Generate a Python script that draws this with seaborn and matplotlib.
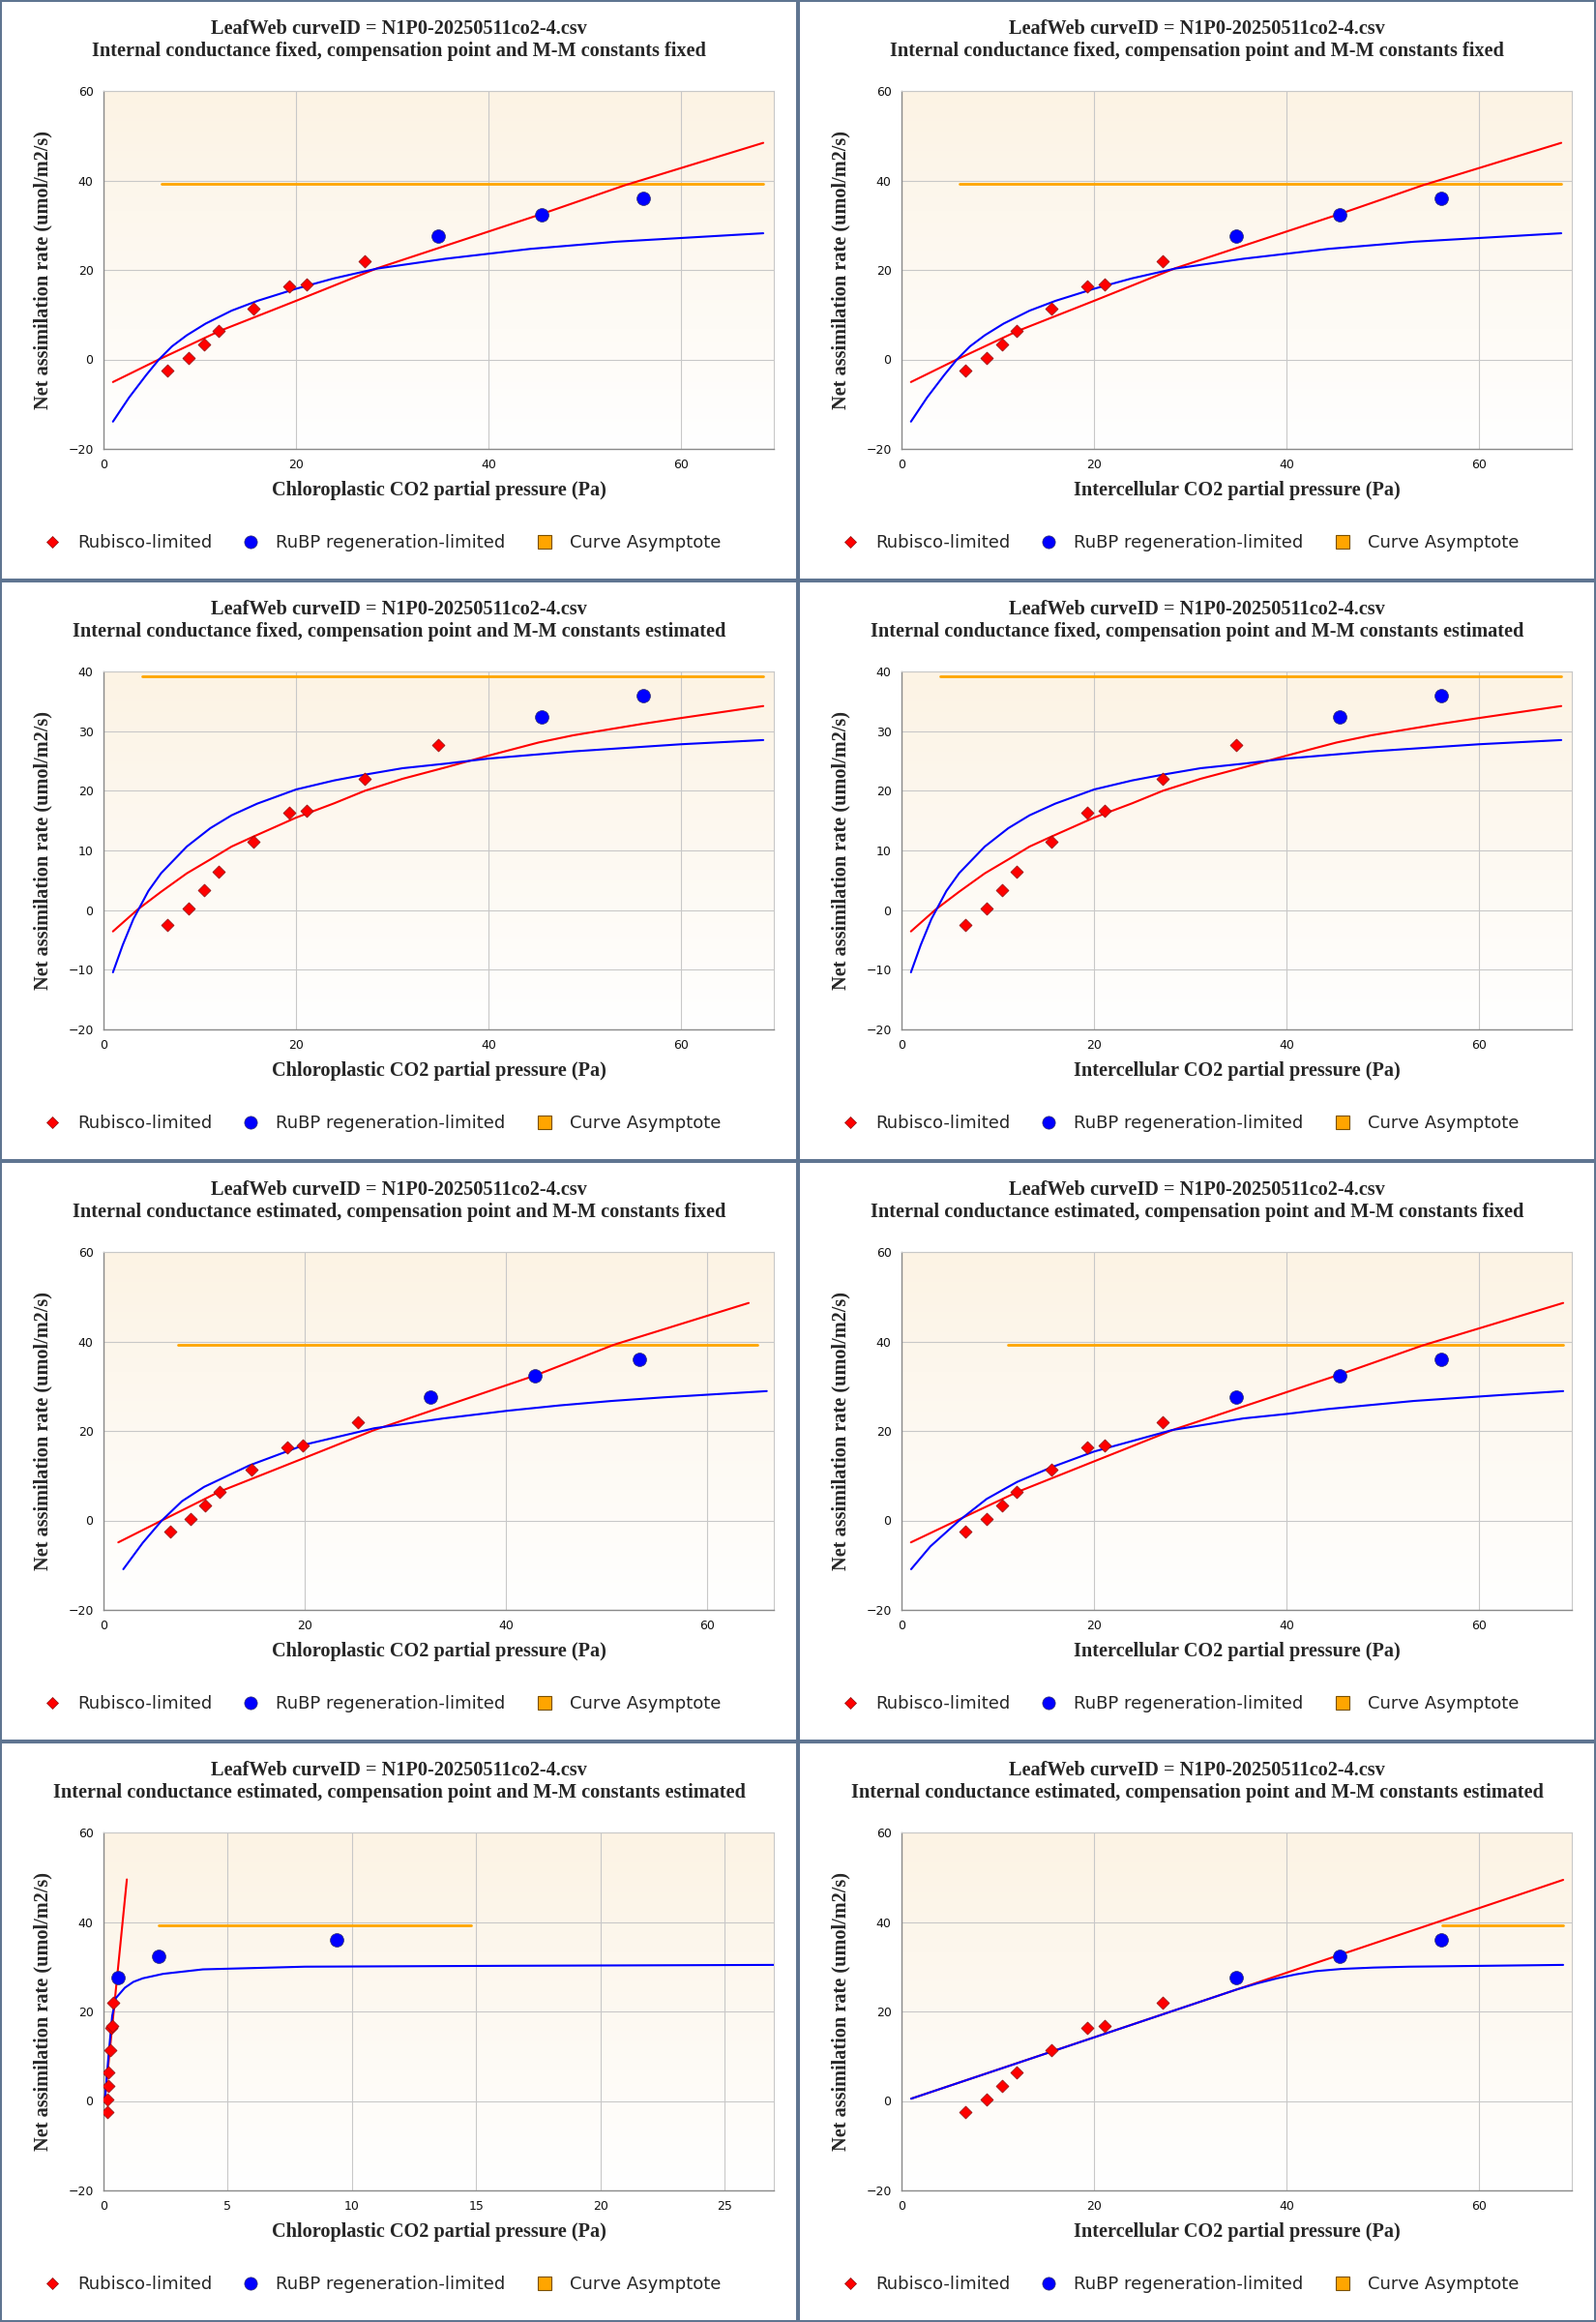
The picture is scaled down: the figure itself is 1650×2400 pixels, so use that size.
import numpy as np
import matplotlib
matplotlib.use("Agg")
import matplotlib.pyplot as plt
import seaborn as sns
from matplotlib.lines import Line2D
from matplotlib.patches import Rectangle

# observed points (same A values in every panel, x depends on the CO2 basis)
A_OBS = [-2.45, 0.33, 3.35, 6.45, 11.4, 16.3, 16.68, 22.0, 27.63, 32.4, 35.93]
CI_OBS = [6.65, 8.87, 10.42, 11.97, 15.52, 19.33, 21.06, 27.14, 34.77, 45.54, 56.0]
CC_GM_EST = [6.63, 8.61, 10.08, 11.49, 14.73, 18.28, 19.8, 25.3, 32.5, 42.9, 53.2]
CC_ALL_EST = [0.14, 0.16, 0.2, 0.2, 0.27, 0.33, 0.35, 0.39, 0.57, 2.21, 9.39]

# how many of the points are Rubisco-limited in each panel
N_RUBISCO = [8, 8, 9, 9, 8, 8, 8, 8]

# fitted curves
RED_FF_X = [0.98, 5.76, 11.97, 20.0, 28.4, 45.5, 54.1, 68.5]
RED_FF_Y = [-5.05, 0.0, 6.28, 13.1, 20.36, 32.5, 38.9, 48.4]
BLUE_FF_X = [0.98, 2.66, 4.43, 5.76, 7.1, 8.65, 10.6, 13.3, 16.0, 20.0, 23.9, 28.4,
             35.5, 44.3, 53.2, 62.1, 68.5]
BLUE_FF_Y = [-13.9, -8.5, -3.5, 0.0, 2.9, 5.4, 8.0, 10.9, 13.1, 15.8, 18.1, 20.3,
             22.5, 24.7, 26.3, 27.4, 28.2]

RED_FE_X = [0.98, 3.55, 5.99, 8.65, 11.09, 13.3, 15.5, 20.0, 23.95, 27.14, 31.04,
            35.48, 40.0, 45.2, 48.78, 55.9, 60.0, 68.5]
RED_FE_Y = [-3.57, 0.1, 3.08, 6.16, 8.49, 10.65, 12.27, 15.5, 17.9, 20.0, 22.0,
            23.9, 25.9, 28.1, 29.3, 31.2, 32.2, 34.2]
BLUE_FE_X = [0.98, 2.0, 3.1, 4.66, 5.99, 8.65, 11.09, 13.3, 15.96, 20.0, 23.95, 27.14,
             31.04, 35.48, 40.0, 48.78, 60.0, 68.5]
BLUE_FE_Y = [-10.43, -5.84, -1.51, 3.2, 6.2, 10.65, 13.73, 15.89, 17.84, 20.22,
             21.73, 22.7, 23.78, 24.54, 25.4, 26.6, 27.8, 28.5]

RED_EF_CC_X = [1.47, 5.8, 11.49, 20.0, 26.9, 42.9, 50.7, 64.1]
RED_EF_CC_Y = [-4.9, 0.0, 6.4, 14.0, 20.2, 32.4, 39.25, 48.6]
BLUE_EF_CC_X = [1.97, 3.9, 5.8, 7.8, 10.0, 14.5, 20.1, 26.9, 33.8, 40.1, 45.3, 50.5,
                55.6, 60.0, 65.9]
BLUE_EF_CC_Y = [-10.9, -5.0, 0.0, 4.3, 7.5, 12.3, 17.0, 20.6, 22.8, 24.5, 25.7, 26.7,
                27.5, 28.1, 28.9]

RED_EF_CI_X = [0.98, 5.76, 11.97, 20.0, 28.4, 45.5, 54.1, 68.7]
RED_EF_CI_Y = [-4.9, 0.0, 6.3, 13.2, 20.4, 32.6, 39.1, 48.6]
BLUE_EF_CI_X = [1.0, 3.0, 6.0, 8.84, 12.0, 15.6, 20.0, 28.1, 35.5, 40.0, 44.3, 53.2,
                62.1, 68.7]
BLUE_EF_CI_Y = [-10.9, -5.8, 0.0, 4.8, 8.6, 11.9, 15.4, 20.2, 22.8, 23.8, 24.9, 26.7,
                28.0, 28.9]

RED_EE_CC_X = [0.06, 0.94]
RED_EE_CC_Y = [0.5, 49.5]
BLUE_EE_CC_X = [0.06, 0.2, 0.35, 0.5, 0.86, 1.2, 1.58, 2.4, 4.0, 8.1, 16.3, 27.0]
BLUE_EE_CC_Y = [0.5, 10.0, 19.0, 23.0, 25.3, 26.6, 27.4, 28.4, 29.4, 30.0, 30.2, 30.4]

RED_EE_CI_X = [1.0, 34.8, 68.7]
RED_EE_CI_Y = [0.5, 24.9, 49.4]
BLUE_EE_CI_X = [1.0, 20.0, 34.8, 37.0, 39.0, 41.0, 43.0, 45.7, 49.0, 52.7, 68.7]
BLUE_EE_CI_Y = [0.5, 14.2, 24.9, 26.3, 27.4, 28.3, 29.0, 29.5, 29.8, 30.0, 30.4]

ASYMPTOTE_A = 39.25
ASYMPTOTE_X = [(6.0, 68.5), (6.0, 68.5), (4.0, 68.5), (4.0, 68.5),
               (7.4, 65.0), (11.0, 68.7), (2.21, 14.8), (56.1, 68.7)]

X_MAX = [69.6, 69.6, 69.6, 69.6, 66.6, 69.6, 26.97, 69.6]
Y_RANGE = [(-20, 60), (-20, 60), (-20, 40), (-20, 40),
           (-20, 60), (-20, 60), (-20, 60), (-20, 60)]

SUBTITLES = [
    "Internal conductance fixed, compensation point and M-M constants fixed",
    "Internal conductance fixed, compensation point and M-M constants fixed",
    "Internal conductance fixed, compensation point and M-M constants estimated",
    "Internal conductance fixed, compensation point and M-M constants estimated",
    "Internal conductance estimated, compensation point and M-M constants fixed",
    "Internal conductance estimated, compensation point and M-M constants fixed",
    "Internal conductance estimated, compensation point and M-M constants estimated",
    "Internal conductance estimated, compensation point and M-M constants estimated",
]
TITLE = "LeafWeb curveID = N1P0-20250511co2-4.csv"
XLABEL_CC = "Chloroplastic CO2 partial pressure (Pa)"
XLABEL_CI = "Intercellular CO2 partial pressure (Pa)"
YLABEL = "Net assimilation rate (umol/m2/s)"
LEGEND_LABELS = ["Rubisco-limited", "RuBP regeneration-limited", "Curve Asymptote"]

panel_x = [CI_OBS, CI_OBS, CI_OBS, CI_OBS, CC_GM_EST, CI_OBS, CC_ALL_EST, CI_OBS]
panel_curves = [
    (RED_FF_X, RED_FF_Y, BLUE_FF_X, BLUE_FF_Y),
    (RED_FF_X, RED_FF_Y, BLUE_FF_X, BLUE_FF_Y),
    (RED_FE_X, RED_FE_Y, BLUE_FE_X, BLUE_FE_Y),
    (RED_FE_X, RED_FE_Y, BLUE_FE_X, BLUE_FE_Y),
    (RED_EF_CC_X, RED_EF_CC_Y, BLUE_EF_CC_X, BLUE_EF_CC_Y),
    (RED_EF_CI_X, RED_EF_CI_Y, BLUE_EF_CI_X, BLUE_EF_CI_Y),
    (RED_EE_CC_X, RED_EE_CC_Y, BLUE_EE_CC_X, BLUE_EE_CC_Y),
    (RED_EE_CI_X, RED_EE_CI_Y, BLUE_EE_CI_X, BLUE_EE_CI_Y),
]

sns.set_style("white")
plt.rcParams["font.family"] = ["DejaVu Sans"]
SERIF = ["Liberation Serif", "DejaVu Serif"]

W, H = 1650, 2400
PW, PH = 825, 600
AX_L, AX_T, AX_W, AX_H = 107, 94, 693, 370

fig = plt.figure(figsize=(W / 100, H / 100), dpi=100)
fig.patch.set_facecolor("white")

# vertical cream-to-white wash used as plot background
top = np.array([252, 243, 228]) / 255
grad = np.linspace(0, 1, 256)[:, None, None]
bg = top * (1 - grad) + np.ones(3) * grad

legend_handles = [
    Line2D([], [], ls="none", marker="D", ms=6.5, mfc="#ff0000", mec="#8a1010", mew=0.5),
    Line2D([], [], ls="none", marker="o", ms=9.5, mfc="#0000ff", mec="#30306a", mew=0.5),
    Line2D([], [], ls="none", marker="s", ms=10, mfc="#ffa500", mec="#7a5000", mew=0.8),
]

for i in range(8):
    row, col = divmod(i, 2)
    x0, y0 = col * PW, row * PH
    ax = fig.add_axes([(x0 + AX_L) / W, 1 - (y0 + AX_T + AX_H) / H, AX_W / W, AX_H / H])
    ax.imshow(bg, extent=(0, 1, 0, 1), transform=ax.transAxes, aspect="auto",
              zorder=0, interpolation="bilinear")

    xs = panel_x[i]
    n = N_RUBISCO[i]
    red_x, red_y, blue_x, blue_y = panel_curves[i]
    as_lo, as_hi = ASYMPTOTE_X[i]

    sns.lineplot(x=[as_lo, as_hi], y=[ASYMPTOTE_A, ASYMPTOTE_A], ax=ax, color="#ffa500",
                 lw=2.0, sort=False, estimator=None, zorder=2)
    sns.lineplot(x=red_x, y=red_y, ax=ax, color="#ff0000", lw=1.5, sort=False,
                 estimator=None, zorder=3)
    sns.lineplot(x=blue_x, y=blue_y, ax=ax, color="#0000ff", lw=1.5, sort=False,
                 estimator=None, zorder=3.5)
    sns.scatterplot(x=xs[:n], y=A_OBS[:n], ax=ax, marker="D", s=44, color="#ff0000",
                    edgecolor="#8a1010", linewidth=0.5, zorder=5)
    sns.scatterplot(x=xs[n:], y=A_OBS[n:], ax=ax, marker="o", s=100, color="#0000ff",
                    edgecolor="#30306a", linewidth=0.5, zorder=5)

    ylo, yhi = Y_RANGE[i]
    ax.set_xlim(0, X_MAX[i])
    ax.set_ylim(ylo, yhi)
    ax.set_yticks(np.arange(ylo, yhi + 1, 20 if yhi == 60 else 10))
    if X_MAX[i] < 30:
        ax.set_xticks(np.arange(0, 26, 5))
    else:
        ax.set_xticks(np.arange(0, 61, 20))

    ax.grid(True, color="#c8c8c8", lw=0.8)
    ax.set_axisbelow(True)
    for side in ["left", "bottom"]:
        ax.spines[side].set_color("#8a8a8a")
        ax.spines[side].set_linewidth(1.0)
    for side in ["top", "right"]:
        ax.spines[side].set_color("#c8c8c8")
        ax.spines[side].set_linewidth(0.8)
    ax.tick_params(direction="out", length=5.5, width=1, color="#333333",
                   labelsize=9, labelcolor="#111111", pad=2)

    xlabel = XLABEL_CC if col == 0 else XLABEL_CI
    ax.set_xlabel(xlabel, fontfamily=SERIF, fontweight="bold", fontsize=14.6, va="center")
    ax.xaxis.set_label_coords(0.5, (AX_H - (507 - AX_T)) / AX_H)
    ax.set_ylabel(YLABEL, fontfamily=SERIF, fontweight="bold", fontsize=14.6, va="center")
    ax.yaxis.set_label_coords((44 - AX_L) / AX_W, 0.5)

    ax.legend(handles=legend_handles, labels=LEGEND_LABELS, loc="center left",
              bbox_to_anchor=((46.8 - AX_L) / AX_W, (AX_H - (561 - AX_T)) / AX_H),
              ncol=3, frameon=False, fontsize=13, handlelength=0.8, handletextpad=1.04,
              columnspacing=1.82, borderaxespad=0, borderpad=0)

    cx = (x0 + PW / 2) / W
    fig.text(cx, 1 - (y0 + 30) / H, TITLE, ha="center", va="center",
             family=SERIF, fontweight="bold", fontsize=14.6)
    fig.text(cx, 1 - (y0 + 53) / H, SUBTITLES[i], ha="center", va="center",
             family=SERIF, fontweight="bold", fontsize=14.6)

    fig.add_artist(Rectangle((x0 / W, 1 - (y0 + PH) / H), PW / W, PH / H,
                             transform=fig.transFigure, fill=False,
                             edgecolor="#5f7591", lw=2.9, zorder=10))

fig.savefig("out.png", dpi=100)
plt.close(fig)
